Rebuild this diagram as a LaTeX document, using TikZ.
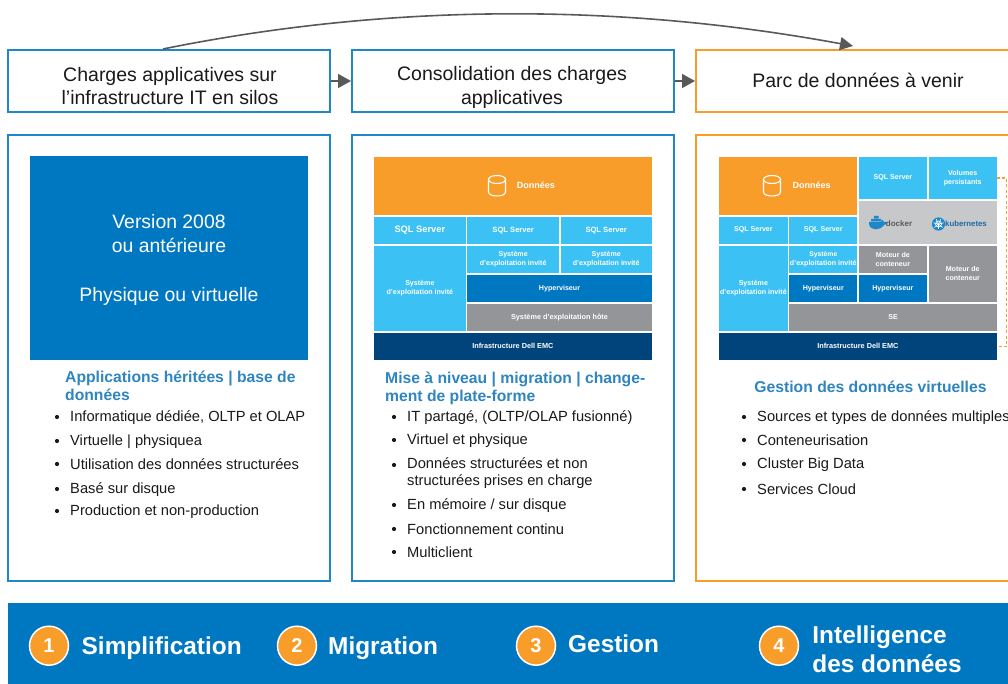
\documentclass[tikz,border=0pt]{standalone}
\usepackage{fontspec}
\setmainfont{Liberation Sans}
\usetikzlibrary{arrows.meta}
\definecolor{dblue}{HTML}{0078C1}
\definecolor{hblue}{HTML}{1F86C8}
\definecolor{dorange}{HTML}{F99D2A}
\definecolor{lblue}{HTML}{3BC1F3}
\definecolor{navy}{HTML}{00447C}
\definecolor{gr}{HTML}{939598}
\definecolor{lgr}{HTML}{C7C8CA}
\definecolor{arrowgr}{HTML}{58595B}
\definecolor{headblue}{HTML}{2F85BF}
\definecolor{txt}{HTML}{1A1A1A}
\tikzset{
  titlebox/.style={draw=#1,line width=2pt,fill=white,inner sep=0pt},
  titletxt/.style={inner sep=0pt,align=center,font=\fontsize{19.5}{23.2}\selectfont,text=txt},
  panelbox/.style={draw=#1,line width=2pt,fill=white,inner sep=0pt},
  blk/.style={fill=#1,inner sep=0pt,text=white,align=center,font=\bfseries\fontsize{7.1}{9.2}\selectfont,anchor=center},
  headtxt/.style={anchor=north west,inner sep=0pt,text=headblue,font=\bfseries\fontsize{15.7}{18}\selectfont,align=left},
  bul/.style={anchor=west,inner sep=0pt,text=txt,font=\fontsize{14.7}{17.5}\selectfont,align=left},
  bdot/.style={circle,fill=txt,inner sep=0pt,minimum size=4.2pt},
  flow/.style={draw=arrowgr,line width=1.6pt,-{Triangle[length=13pt,width=14pt]}},
  numc/.style={circle,draw=white,line width=1.5pt,fill=dorange,minimum size=39pt,inner sep=0pt,text=white,font=\bfseries\fontsize{20}{24}\selectfont},
  bandtxt/.style={anchor=base west,inner sep=0pt,text=white,font=\bfseries\fontsize{24.4}{29}\selectfont,align=left},
  icon/.style={draw=white,line width=1.1pt,fill=none},
}
\newcommand{\blockbox}[7]{% name x0 y0 x1 y1 colour text
  \pgfmathsetmacro{\bw}{#4-#2}\pgfmathsetmacro{\bh}{#5-#3}
  \pgfmathsetmacro{\bx}{(#2+#4)/2}\pgfmathsetmacro{\by}{(#3+#5)/2}
  \node[blk=#6,minimum width=\bw pt,minimum height=\bh pt] (#1) at (\bx,\by) {#7};}
\newcommand{\bulletline}[4]{% name dotx textx y text
  \node[bdot] (d#1) at (#2,#3) {};
  \node[bul] (#1) at (#2+13,#3+0.5) {#4};}
\newcommand{\dbicon}[2]{% centre
  \draw[icon] (#1-8.5,#2-6) -- (#1-8.5,#2+6.5) .. controls (#1-8.5,#2+11.8) and (#1+8.5,#2+11.8) .. (#1+8.5,#2+6.5) -- (#1+8.5,#2-6);
  \draw[icon] (#1-8.5,#2-6) .. controls (#1-8.5,#2-11.3) and (#1+8.5,#2-11.3) .. (#1+8.5,#2-6) .. controls (#1+8.5,#2-0.7) and (#1-8.5,#2-0.7) .. (#1-8.5,#2-6) -- cycle;}
\begin{document}
\begin{tikzpicture}[x=1pt,y=-1pt]
\useasboundingbox (0,0) rectangle (1008,684);
\begin{scope}
\clip (0,0) rectangle (1008,684);
% titles
\node[titlebox=hblue,minimum width=322pt,minimum height=62pt] (t1) at (169,81) {};
\node[titletxt] (t1t) at (170,85.8) {Charges applicatives sur\\l’infrastructure IT en silos};
\node[titlebox=hblue,minimum width=322pt,minimum height=62pt] (t2) at (513,81) {};
\node[titletxt] (t2t) at (512,87.5) {Consolidation des charges\\applicatives};
\node[titlebox=dorange,minimum width=324pt,minimum height=62pt] (t3) at (858,81) {};
\node[titletxt] (t3t) at (858,80) {Parc de données à venir};
% panels
\node[panelbox=hblue,minimum width=322pt,minimum height=446pt] (p1) at (169,358) {};
\node[panelbox=hblue,minimum width=322pt,minimum height=446pt] (p2) at (513,358) {};
\node[panelbox=dorange,minimum width=324pt,minimum height=446pt] (p3) at (858,358) {};
% connectors
\draw[flow] (t1.east) -- (t2.west);
\draw[flow] (t2.east) -- (t3.west);
\draw[draw=arrowgr,line width=1.6pt,-{Triangle[length=13pt,width=13pt]}] ([xshift=-6pt]t1.north) .. controls (390,3) and (620,3) .. ([xshift=-5pt,yshift=3pt]t3.north);
% panel 1
\node[fill=dblue,inner sep=0pt,minimum width=278pt,minimum height=204pt] (v1) at (169,258) {};
\node[inner sep=0pt,text=white,align=center,font=\fontsize{19.4}{23.6}\selectfont] (v1t) at (169,260) {Version 2008\\ou antérieure\\[25pt]Physique ou virtuelle};
\node[headtxt] (h1) at (65,370.5) {Applications héritées | base de\\données};
\bulletline{a1}{57}{417}{Informatique dédiée, OLTP et OLAP}
\bulletline{a2}{57}{441}{Virtuelle | physiquea}
\bulletline{a3}{57}{464}{Utilisation des données structurées}
\bulletline{a4}{57}{489}{Basé sur disque}
\bulletline{a5}{57}{511}{Production et non-production}
% panel 2
\blockbox{b1}{374}{156.7}{651.7}{214.7}{dorange}{\hspace*{46pt}{\fontsize{9}{10}\selectfont Données}}
\dbicon{497}{185.5}
\blockbox{b2}{374}{216.7}{465.7}{243.7}{lblue}{\fontsize{9.3}{11}\selectfont SQL Server}
\blockbox{b3}{467.3}{216.7}{559}{243.7}{lblue}{\fontsize{7.6}{9}\selectfont SQL Server}
\blockbox{b4}{560.7}{216.7}{651.7}{243.7}{lblue}{\fontsize{7.6}{9}\selectfont SQL Server}
\blockbox{b5}{374}{245.7}{465.7}{331}{lblue}{Système\\d’exploitation invité}
\blockbox{b6}{467.3}{245.7}{559}{273}{lblue}{Système\\d’exploitation invité}
\blockbox{b7}{560.7}{245.7}{651.7}{273}{lblue}{Système\\d’exploitation invité}
\blockbox{b8}{467.3}{275}{651.7}{302}{dblue}{Hyperviseur}
\blockbox{b9}{467.3}{303.7}{651.7}{331}{gr}{\fontsize{7.3}{9}\selectfont Système d’exploitation hôte}
\blockbox{b10}{374}{333.3}{651.7}{360.3}{navy}{\raisebox{1pt}{\fontsize{7.3}{9}\selectfont Infrastructure Dell EMC}}
\node[headtxt] (h2) at (385,371.5) {Mise à niveau | migration | change-\\ment de plate-forme};
\bulletline{c1}{394}{417}{IT partagé, (OLTP/OLAP fusionné)}
\bulletline{c2}{394}{440}{Virtuel et physique}
\node[bdot] (dc3) at (394,465) {};
\node[bul,anchor=north west] (c3) at (407,457) {Données structurées et non\\structurées prises en charge};
\bulletline{c4}{394}{505}{En mémoire / sur disque}
\bulletline{c5}{394}{529}{Fonctionnement continu}
\bulletline{c6}{394}{552}{Multiclient}
% panel 3
\blockbox{e1}{719}{156.7}{857.3}{214.7}{dorange}{\hspace*{47pt}{\fontsize{9}{10}\selectfont Données}}
\dbicon{772}{185.5}
\blockbox{e2}{858.7}{156.7}{927}{199}{lblue}{SQL Server}
\blockbox{e3}{928.7}{156.7}{996.7}{199}{lblue}{Volumes\\persistants}
\blockbox{e4}{858.7}{200.7}{996.7}{243.7}{lgr}{}
\blockbox{e5}{719}{216.7}{787.7}{243.7}{lblue}{SQL Server}
\blockbox{e6}{789.3}{216.7}{857.3}{243.7}{lblue}{SQL Server}
\blockbox{e7}{719}{245.7}{787.7}{331}{lblue}{Système\\d’exploitation invité}
\blockbox{e8}{789.3}{245.7}{857.3}{273}{lblue}{\fontsize{6.8}{9}\selectfont Système\\d’exploitation invité}
\blockbox{e9}{858.7}{245.7}{927}{273}{gr}{Moteur de\\conteneur}
\blockbox{e10}{928.7}{245.7}{996.7}{302}{gr}{Moteur de\\conteneur}
\blockbox{e11}{789.3}{275}{857.3}{302}{dblue}{Hyperviseur}
\blockbox{e12}{858.7}{275}{927}{302}{dblue}{Hyperviseur}
\blockbox{e13}{789.3}{303.7}{996.7}{331}{gr}{SE}
\blockbox{e14}{719}{333.3}{996.7}{360.3}{navy}{\raisebox{1pt}{\fontsize{7.3}{9}\selectfont Infrastructure Dell EMC}}
% docker
\fill[hblue] (869,224) .. controls (870,231) and (880,231) .. (884,225) .. controls (886,225) and (887,223) .. (887.5,222.5) .. controls (886,221.5) and (885,221.5) .. (884,222) .. controls (883.5,221) and (883,220) .. (882,219.5) -- (881,222) -- (869,222) -- cycle;
\fill[hblue] (871,219) rectangle (881,221.5) (874,216) rectangle (878.5,218.5);
\node[inner sep=0pt,text=arrowgr,font=\bfseries\fontsize{8}{10}\selectfont] (dock) at (899,224) {docker};
% kubernetes
\fill[hblue] (938.5,224) circle[radius=6.6];
\draw[white,line width=0.7pt] (938.5,224) circle[radius=3];
\foreach \a in {90,141,193,244,296,347,39} \draw[white,line width=0.6pt] (938.5,224) -- ++(\a:5.4);
\node[inner sep=0pt,text=headblue!60!navy,font=\bfseries\fontsize{7.8}{10}\selectfont,anchor=west] (kube) at (945,224) {kubernetes};
% dashed bracket
\coordinate (dbk1) at (1006.7,178);
\coordinate (dbk2) at (1006.7,346.8);
\draw[dorange,line width=1.2pt,dash pattern=on 3pt off 2.4pt] (e3.east |- dbk1) -- (dbk1) -- (dbk2) -- (e14.east |- dbk2);
\node[headtxt,anchor=center] (h3) at (870.5,387) {Gestion des données virtuelles};
\bulletline{g1}{744}{417}{Sources et types de données multiples}
\bulletline{g2}{744}{440}{Conteneurisation}
\bulletline{g3}{744}{464}{Cluster Big Data}
\bulletline{g4}{744}{489}{Services Cloud}
% band
\node[fill=dblue,inner sep=0pt,minimum width=1000pt,minimum height=81pt] (band) at (508,643.5) {};
\node[numc] (n1) at (49,645.7) {1};
\node[bandtxt] (l1) at (81.5,654) {Simplification};
\node[numc] (n2) at (297,645.7) {2};
\node[bandtxt] (l2) at (328,654) {Migration};
\node[numc] (n3) at (536,645.7) {3};
\node[bandtxt] (l3) at (568,652.7) {Gestion};
\node[numc] (n4) at (779,645.7) {4};
\node[bandtxt,anchor=center] (l4) at (887,649.5) {Intelligence\\des données};
\end{scope}
\end{tikzpicture}
\end{document}
